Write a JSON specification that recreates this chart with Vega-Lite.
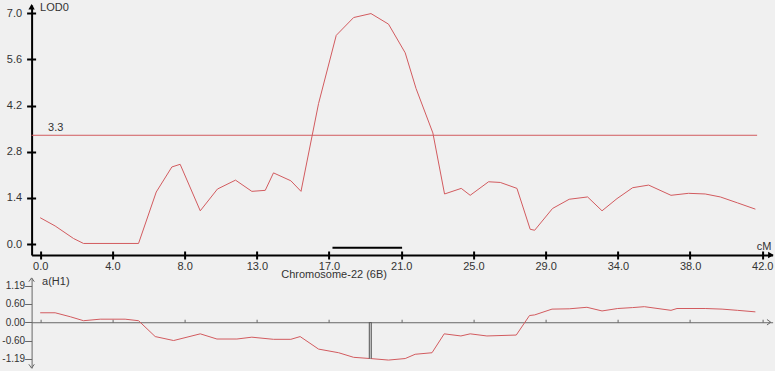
{
  "$schema": "https://vega.github.io/schema/vega-lite/v6.json",
  "background": "#f0f0f0",
  "padding": {"left": 1.6, "top": 1, "right": 0, "bottom": 0},
  "bounds": "flush",
  "spacing": 23,
  "datasets": {
    "lod": [
      {"cM": 0, "lod": 0.8}, {"cM": 0.87, "lod": 0.55}, {"cM": 1.94, "lod": 0.17}, {"cM": 2.52, "lod": 0.02},
      {"cM": 5.72, "lod": 0.02}, {"cM": 6.75, "lod": 1.58}, {"cM": 7.66, "lod": 2.34}, {"cM": 8.14, "lod": 2.42},
      {"cM": 9.31, "lod": 1.01}, {"cM": 10.31, "lod": 1.67}, {"cM": 11.36, "lod": 1.94}, {"cM": 12.31, "lod": 1.6},
      {"cM": 13.09, "lod": 1.63}, {"cM": 13.57, "lod": 2.16}, {"cM": 14.58, "lod": 1.92}, {"cM": 15.17, "lod": 1.6},
      {"cM": 16.19, "lod": 4.26}, {"cM": 17.22, "lod": 6.33}, {"cM": 18.23, "lod": 6.87}, {"cM": 19.24, "lod": 6.99},
      {"cM": 20.26, "lod": 6.67}, {"cM": 21.23, "lod": 5.8}, {"cM": 21.86, "lod": 4.72}, {"cM": 22.84, "lod": 3.37},
      {"cM": 23.52, "lod": 1.52}, {"cM": 24.49, "lod": 1.69}, {"cM": 25.01, "lod": 1.48}, {"cM": 26.08, "lod": 1.89},
      {"cM": 26.76, "lod": 1.87}, {"cM": 27.73, "lod": 1.69}, {"cM": 28.5, "lod": 0.45}, {"cM": 28.76, "lod": 0.42},
      {"cM": 29.8, "lod": 1.08}, {"cM": 30.77, "lod": 1.36}, {"cM": 31.84, "lod": 1.43}, {"cM": 32.68, "lod": 1.01},
      {"cM": 33.55, "lod": 1.38}, {"cM": 34.46, "lod": 1.71}, {"cM": 35.39, "lod": 1.79}, {"cM": 36.69, "lod": 1.48},
      {"cM": 37.71, "lod": 1.54}, {"cM": 38.68, "lod": 1.52}, {"cM": 39.56, "lod": 1.43}, {"cM": 40.56, "lod": 1.25},
      {"cM": 41.6, "lod": 1.06}
    ],
    "effect": [
      {"cM": 0, "a": 0.31}, {"cM": 0.87, "a": 0.31}, {"cM": 1.75, "a": 0.18}, {"cM": 2.52, "a": 0.05},
      {"cM": 3.49, "a": 0.1}, {"cM": 4.94, "a": 0.1}, {"cM": 5.72, "a": 0.05}, {"cM": 6.69, "a": -0.47},
      {"cM": 7.76, "a": -0.6}, {"cM": 9.31, "a": -0.38}, {"cM": 10.28, "a": -0.55}, {"cM": 11.44, "a": -0.55},
      {"cM": 12.31, "a": -0.49}, {"cM": 13.57, "a": -0.56}, {"cM": 14.58, "a": -0.56}, {"cM": 15.12, "a": -0.47},
      {"cM": 16.19, "a": -0.88}, {"cM": 17.36, "a": -1.0}, {"cM": 18.23, "a": -1.15}, {"cM": 19.2, "a": -1.19},
      {"cM": 20.26, "a": -1.24}, {"cM": 21.23, "a": -1.19}, {"cM": 21.81, "a": -1.05}, {"cM": 22.79, "a": -1.0},
      {"cM": 23.5, "a": -0.38}, {"cM": 24.47, "a": -0.45}, {"cM": 25.01, "a": -0.38}, {"cM": 25.98, "a": -0.45},
      {"cM": 27.69, "a": -0.42}, {"cM": 28.46, "a": 0.22}, {"cM": 28.76, "a": 0.24}, {"cM": 29.77, "a": 0.43},
      {"cM": 30.77, "a": 0.44}, {"cM": 31.8, "a": 0.49}, {"cM": 32.68, "a": 0.37}, {"cM": 33.59, "a": 0.45},
      {"cM": 34.46, "a": 0.48}, {"cM": 35.14, "a": 0.51}, {"cM": 36.69, "a": 0.39}, {"cM": 37.04, "a": 0.45},
      {"cM": 38.68, "a": 0.45}, {"cM": 39.66, "a": 0.43}, {"cM": 40.56, "a": 0.39}, {"cM": 41.6, "a": 0.34}
    ],
    "threshold": [{"lod": 3.3}],
    "ci": [{"start": 17.0, "end": 21.05}],
    "peak": [{"cM": 19.2, "a": -1.19}]
  },
  "vconcat": [
    {
      "width": 741,
      "height": 250,
      "resolve": {"axis": {"x": "independent", "y": "independent"}},
      "layer": [
        {
          "data": {"name": "lod"},
          "mark": {"type": "line", "color": "#d25a5e", "strokeWidth": 1},
          "encoding": {
            "x": {
              "field": "cM", "type": "quantitative",
              "scale": {"domain": [-0.5, 42.6], "nice": false, "zero": false},
              "axis": {
                "orient": "bottom",
                "values": [0, 4.2, 8.4, 12.6, 16.8, 21, 25.2, 29.4, 33.6, 37.8, 42], "tickCount": 20,
                "labelExpr": "format(round(datum.value), '.1f')",
                "tickSize": 4, "labelPadding": 2, "domainWidth": 2, "tickWidth": 2,
                "title": "Chromosome-22 (6B)", "titleX": 302, "titleY": 20, "titleBaseline": "middle",
                "titleAlign": "center"
              }
            },
            "y": {
              "field": "lod", "type": "quantitative",
              "scale": {"domain": [-0.33, 7.25], "nice": false, "zero": false},
              "axis": {
                "orient": "left",
                "values": [0, 1.4, 2.8, 4.2, 5.6, 7.0], "tickCount": 10, "format": ".1f",
                "tickSize": 5, "labelPadding": 5, "domainWidth": 2, "tickWidth": 2,
                "title": "LOD0", "titleAngle": 0, "titleAlign": "left", "titleBaseline": "middle",
                "titleX": 8, "titleY": 2
              }
            }
          }
        },
        {
          "data": {"name": "lod"},
          "mark": {"type": "line", "opacity": 0},
          "encoding": {
            "x": {
              "field": "cM", "type": "quantitative",
              "axis": {
                "orient": "bottom", "values": [0, 4.2, 8.4, 12.6, 16.8, 21, 25.2, 29.4, 33.6, 37.8, 42], "tickCount": 20,
                "labels": false, "domain": false, "title": null, "tickSize": -4, "tickWidth": 2
              }
            },
            "y": {
              "field": "lod", "type": "quantitative",
              "axis": {
                "orient": "left", "values": [0, 1.4, 2.8, 4.2, 5.6, 7.0], "tickCount": 10,
                "labels": false, "domain": false, "title": null, "tickSize": -4, "tickWidth": 2
              }
            }
          }
        },
        {
          "data": {"name": "threshold"},
          "mark": {"type": "rule", "color": "#d25a5e", "strokeWidth": 1},
          "encoding": {
            "x": {"datum": -0.5, "type": "quantitative", "axis": null}, "x2": {"datum": 41.7},
            "y": {"field": "lod", "type": "quantitative", "axis": null}
          }
        },
        {
          "data": {"name": "threshold"},
          "mark": {"type": "text", "dy": -7, "font": "Liberation Sans", "fontSize": 11, "color": "#333", "baseline": "middle"},
          "encoding": {
            "x": {"datum": 0.9, "type": "quantitative", "axis": null},
            "y": {"field": "lod", "type": "quantitative", "axis": null},
            "text": {"field": "lod", "type": "quantitative", "format": ".1f"}
          }
        },
        {
          "data": {"name": "ci"},
          "mark": {"type": "rule", "color": "#000", "strokeWidth": 2},
          "encoding": {
            "x": {"field": "start", "type": "quantitative", "axis": null}, "x2": {"field": "end"},
            "y": {"datum": -0.11, "type": "quantitative", "axis": null}
          }
        },
        {
          "data": {"values": [{}]},
          "mark": {"type": "text", "text": "cM", "font": "Liberation Sans", "fontSize": 11, "color": "#333", "baseline": "middle", "align": "center"},
          "encoding": {"x": {"datum": 42.1, "type": "quantitative", "axis": null}, "y": {"datum": -0.09, "type": "quantitative", "axis": null}}
        },
        {
          "data": {"values": [{}]},
          "mark": {"type": "point", "shape": "triangle-up", "filled": true, "color": "#000", "size": 40, "opacity": 1},
          "encoding": {"x": {"datum": -0.5, "type": "quantitative", "axis": null}, "y": {"datum": 7.2, "type": "quantitative", "axis": null}}
        },
        {
          "data": {"values": [{}]},
          "mark": {"type": "point", "shape": "triangle-right", "filled": true, "color": "#000", "size": 40, "opacity": 1},
          "encoding": {"x": {"datum": 42.5, "type": "quantitative", "axis": null}, "y": {"datum": -0.33, "type": "quantitative", "axis": null}}
        }
      ]
    },
    {
      "width": 741,
      "height": 90,
      "layer": [
        {
          "data": {"name": "effect"},
          "mark": {"type": "line", "color": "#d25a5e", "strokeWidth": 1},
          "encoding": {
            "x": {
              "field": "cM", "type": "quantitative",
              "scale": {"domain": [-0.5, 42.6], "nice": false, "zero": false},
              "axis": {
                "orient": "top", "offset": -44.24,
                "values": [0, 4.2, 8.4, 12.6, 16.8, 21, 25.2, 29.4, 33.6, 37.8, 42], "tickCount": 20,
                "labels": false, "title": null, "tickSize": 3,
                "domainColor": "#666", "tickColor": "#666"
              }
            },
            "y": {
              "field": "a", "type": "quantitative",
              "scale": {"domain": [-1.5, 1.45], "nice": false, "zero": false},
              "axis": {
                "values": [1.19, 0.6, 0, -0.6, -1.19], "tickCount": 10,
                "labelExpr": "(datum.value < 0 ? '-' : '') + format(abs(datum.value), '.2f')",
                "labelOverlap": false, "labelFontSize": 10,
                "tickSize": 7, "labelPadding": 0, "domainColor": "#666", "tickColor": "#666",
                "title": "a(H1)", "titleAngle": 0, "titleAlign": "left", "titleBaseline": "middle",
                "titleX": 10, "titleY": 4
              }
            }
          }
        },
        {
          "data": {"name": "peak"},
          "mark": {"type": "rule", "color": "#555", "strokeWidth": 3},
          "encoding": {
            "x": {"field": "cM", "type": "quantitative"},
            "y": {"field": "a", "type": "quantitative"}, "y2": {"datum": 0}
          }
        },
        {
          "data": {"name": "peak"},
          "mark": {"type": "rule", "color": "#d8d8d8", "strokeWidth": 1},
          "encoding": {
            "x": {"field": "cM", "type": "quantitative"},
            "y": {"field": "a", "type": "quantitative"}, "y2": {"datum": -0.03}
          }
        },
        {
          "data": {"values": [{}]},
          "mark": {"type": "point", "shape": "M-1,0.8L0,-0.6L1,0.8", "filled": false, "color": "#666", "size": 30, "strokeWidth": 1, "opacity": 1},
          "encoding": {"x": {"datum": -0.5, "type": "quantitative"}, "y": {"datum": 1.4, "type": "quantitative"}}
        },
        {
          "data": {"values": [{}]},
          "mark": {"type": "point", "shape": "M-1,-0.8L0,0.6L1,-0.8", "filled": false, "color": "#666", "size": 30, "strokeWidth": 1, "opacity": 1},
          "encoding": {"x": {"datum": -0.5, "type": "quantitative"}, "y": {"datum": -1.45, "type": "quantitative"}}
        },
        {
          "data": {"values": [{}]},
          "mark": {"type": "point", "shape": "M-0.8,-1L0.6,0L-0.8,1", "filled": false, "color": "#666", "size": 30, "strokeWidth": 1, "opacity": 1},
          "encoding": {"x": {"datum": 42.4, "type": "quantitative"}, "y": {"datum": 0, "type": "quantitative"}}
        }
      ]
    }
  ],
  "config": {
    "view": {"stroke": null},
    "axis": {
      "grid": false,
      "labelFont": "Liberation Sans", "titleFont": "Liberation Sans",
      "labelFontSize": 11, "titleFontSize": 11,
      "labelColor": "#333", "titleColor": "#333", "titleFontWeight": "normal",
      "domainColor": "#000", "tickColor": "#000"
    }
  }
}
